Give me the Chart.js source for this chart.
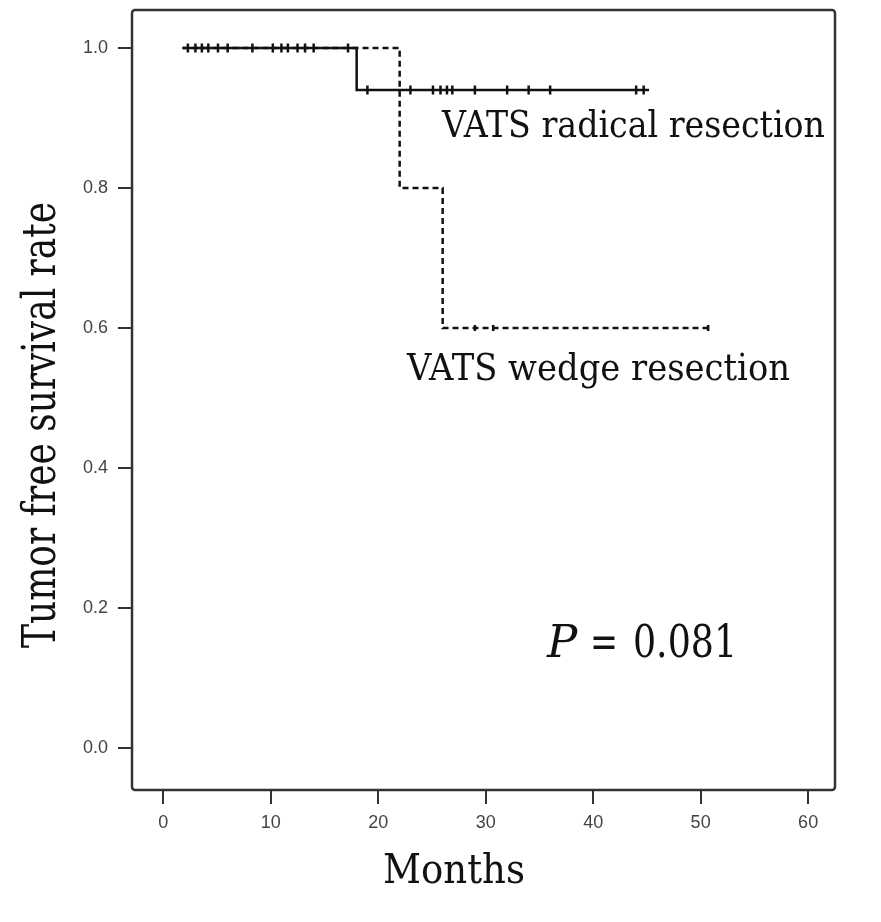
<!DOCTYPE html>
<html lang="en">
<head>
<meta charset="UTF-8">
<title>Tumor free survival</title>
<style>
  body { margin: 0; background: #fff; }
  #wrap { width: 881px; height: 922px; }
</style>
</head>
<body>
<div id="wrap"><canvas id="km" width="881" height="922"></canvas></div>
<script src="https://cdn.jsdelivr.net/npm/chart.js"></script>
<script>
  // Kaplan-Meier steps (time in months, survival)
  var radicalTime = [1.8, 18.0, 45.2];
  var radicalSurv = [1.0, 0.94, 0.94];
  var radicalCensor = [2.3, 3.0, 3.6, 4.2, 5.1, 6.0, 8.3, 10.2, 11.0, 11.6, 12.5, 13.2, 14.0, 17.2,
                       19.0, 23.0, 25.1, 25.8, 26.4, 26.9, 29.0, 32.0, 34.0, 36.0, 44.0, 44.7];

  var wedgeTime = [1.8, 22.0, 26.0, 51.0];
  var wedgeSurv = [1.0, 0.8, 0.6, 0.6];
  var wedgeCensor = [29.0, 30.7, 50.7];

  var xTicks = [0, 10, 20, 30, 40, 50, 60];
  var yTicks = [0.0, 0.2, 0.4, 0.6, 0.8, 1.0];

  var pValue = '0.081';

  function toPoints(times, surv) {
    return times.map(function (t, i) { return { x: t, y: surv[i] }; });
  }

  // survival value of a step curve at time t
  function survAt(times, surv, t) {
    var s = surv[0];
    for (var i = 0; i < times.length; i++) {
      if (times[i] <= t) s = surv[i];
    }
    return s;
  }

  function censorPoints(list, times, surv) {
    return list.map(function (t) { return { x: t, y: survAt(times, surv, t) }; });
  }

  var ink = '#111';

  var textPlugin = {
    id: 'kmText',
    beforeDatasetsDraw: function (chart) {
      var a = chart.chartArea, ctx = chart.ctx;
      ctx.save();
      ctx.strokeStyle = '#333';
      ctx.lineWidth = 2.5;
      ctx.beginPath();
      ctx.roundRect(a.left, a.top, a.right - a.left, a.bottom - a.top, 3);
      ctx.stroke();
      ctx.restore();
    },
    afterDraw: function (chart) {
      var ctx = chart.ctx;
      ctx.save();
      ctx.fillStyle = ink;
      ctx.textBaseline = 'alphabetic';

      ctx.font = '37px "DejaVu Serif"';
      ctx.textAlign = 'left';
      ctx.fillText('VATS radical resection', 442, 137, 383);
      ctx.fillText('VATS wedge resection', 407, 380, 383);

      ctx.font = 'italic 45px "DejaVu Serif"';
      ctx.fillText('P', 547, 657, 33);
      ctx.font = '45px "DejaVu Serif"';
      ctx.fillText('=', 590, 657, 28);
      ctx.fillText(pValue, 633, 657, 104);

      ctx.font = '41px "DejaVu Serif"';
      ctx.textAlign = 'center';
      ctx.fillText('Months', 454, 883, 142);

      ctx.translate(55, 425);
      ctx.rotate(-Math.PI / 2);
      ctx.font = '46px "DejaVu Serif"';
      ctx.fillText('Tumor free survival rate', 0, 0, 446);
      ctx.restore();
    }
  };

  var tickFont = { family: '"Liberation Sans", Arial, sans-serif', size: 18 };

  new Chart(document.getElementById('km'), {
    type: 'scatter',
    data: {
      datasets: [{
        label: 'VATS wedge resection',
        type: 'line',
        data: toPoints(wedgeTime, wedgeSurv),
        stepped: 'before',
        borderColor: ink,
        borderWidth: 2.5,
        borderDash: [6, 4],
        pointRadius: 0,
        fill: false
      }, {
        label: 'VATS radical resection',
        type: 'line',
        data: toPoints(radicalTime, radicalSurv),
        stepped: 'before',
        borderColor: ink,
        borderWidth: 2.5,
        pointRadius: 0,
        fill: false
      }, {
        label: 'radical censored',
        data: censorPoints(radicalCensor, radicalTime, radicalSurv),
        pointStyle: 'line',
        rotation: 90,
        radius: 4.5,
        borderColor: ink,
        borderWidth: 2.5
      }, {
        label: 'wedge censored',
        data: censorPoints(wedgeCensor, wedgeTime, wedgeSurv),
        pointStyle: 'line',
        rotation: 90,
        radius: 3,
        borderColor: ink,
        borderWidth: 2.5
      }]
    },
    options: {
      responsive: false,
      animation: false,
      layout: { padding: { top: 10, right: 46, left: 0, bottom: 0 } },
      plugins: { legend: { display: false }, tooltip: { enabled: false } },
      scales: {
        x: {
          type: 'linear',
          min: -2.9,
          max: 62.5,
          afterBuildTicks: function (s) { s.ticks = xTicks.map(function (v) { return { value: v }; }); },
          afterFit: function (s) { s.height = 132; s.paddingLeft = 0; s.paddingRight = 0; },
          border: { display: false },
          grid: { drawOnChartArea: false, drawTicks: true, tickLength: 14, color: '#333', lineWidth: 2 },
          ticks: { font: tickFont, color: '#444', padding: 8, maxRotation: 0 }
        },
        y: {
          min: -0.06,
          max: 1.0543,
          afterBuildTicks: function (s) { s.ticks = yTicks.map(function (v) { return { value: v }; }); },
          afterFit: function (s) { s.width = 132; s.paddingTop = 0; s.paddingBottom = 0; },
          border: { display: false },
          grid: { drawOnChartArea: false, drawTicks: true, tickLength: 14, color: '#333', lineWidth: 2 },
          ticks: {
            font: tickFont, color: '#444', padding: 10,
            callback: function (v) { return v.toFixed(1); }
          }
        }
      }
    },
    plugins: [textPlugin]
  });
</script>
</body>
</html>
